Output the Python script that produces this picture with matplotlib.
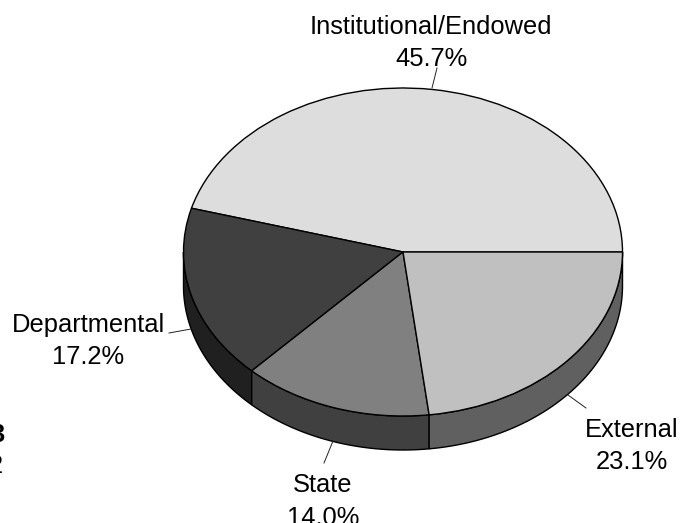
import numpy as np
import matplotlib
matplotlib.use('Agg')
import matplotlib.pyplot as plt

# Shares, counter-clockwise from 3 o'clock
labels = ['Institutional/Endowed', 'Departmental', 'State', 'External']
shares = [45.7, 17.2, 14.0, 23.1]
top_colors = ['#DDDDDD', '#404040', '#808080', '#C0C0C0']
side_colors = ['#6E6E6E', '#202020', '#404040', '#606060']

W, H = 680, 523
CX, CY, RX, RY, DEPTH = 403, 252, 219.5, 164, 34

plt.rcParams['font.family'] = ['Liberation Sans', 'DejaVu Sans']

fig = plt.figure(figsize=(W / 100, H / 100), dpi=100)
ax = fig.add_axes([0, 0, 1, 1])

# Side wall, only the front half of the cake shows
edges = np.concatenate([[0], np.cumsum(shares)]) * 3.6
d = DEPTH / RY
for i in range(len(shares)):
    a0 = max(edges[i], 180)
    a1 = edges[i + 1]
    if a1 <= a0:
        continue
    t = np.radians(np.linspace(a0, a1, 120))
    xs = np.concatenate([np.cos(t), np.cos(t[::-1])])
    ys = np.concatenate([np.sin(t), np.sin(t[::-1]) - d])
    ax.fill(xs, ys, facecolor=side_colors[i], edgecolor='black', linewidth=1.0)

# Top face
ax.pie(shares, startangle=0, counterclock=True, colors=top_colors,
       wedgeprops=dict(edgecolor='black', linewidth=1.0))

ax.set_aspect('auto')
ax.set_xlim(-CX / RX, (W - CX) / RX)
ax.set_ylim(-(H - CY) / RY, CY / RY)
ax.axis('off')


def put(x, y, s, **kw):
    # y is the baseline in picture pixels
    fig.text(x / W, 1 - y / H, s, fontsize=18.4, color='black',
             ha=kw.pop('ha', 'center'), va='baseline', **kw)


def leader(x0, y0, x1, y1):
    fig.add_artist(plt.Line2D([x0 / W, x1 / W], [1 - y0 / H, 1 - y1 / H],
                              color='#222222', linewidth=0.7))


# Labels
put(431, 34, labels[0])
put(431, 66, '%.1f%%' % shares[0])
put(88, 332, labels[1])
put(88, 364, '%.1f%%' % shares[1])
put(323, 492, labels[2])
put(323, 525, '%.1f%%' % shares[2])
put(632, 437, labels[3])
put(632, 469, '%.1f%%' % shares[3])

leader(432, 88, 437, 68)
leader(169, 333, 191, 329)
leader(568, 395, 586, 408)
leader(333, 441, 324, 463)

# Bits of a neighbouring text cut by the left edge
put(5, 442, '3', ha='right', fontweight='bold')
put(3, 473, '2', ha='right')

fig.savefig('out.png', dpi=100)
